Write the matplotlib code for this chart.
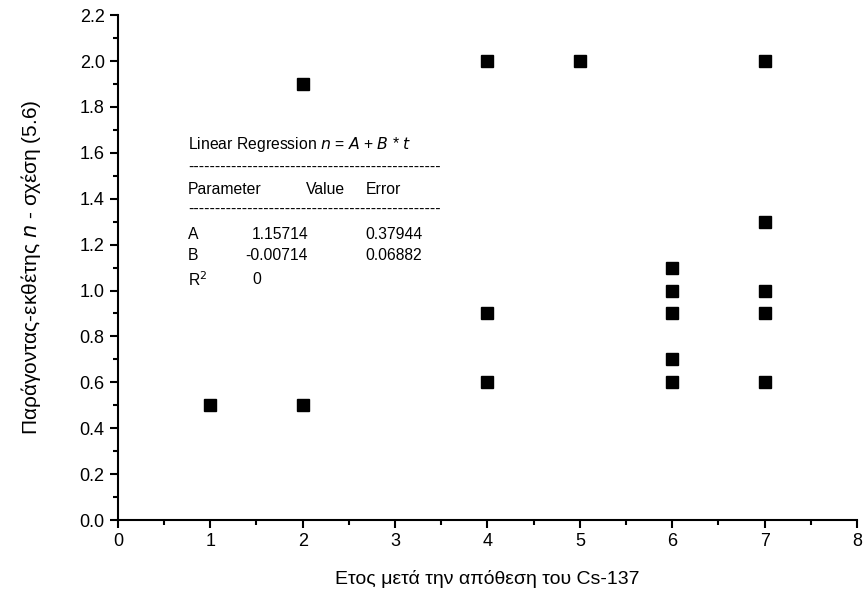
import matplotlib
matplotlib.use("Agg")
import matplotlib.pyplot as plt
from matplotlib.ticker import MultipleLocator

plt.rcParams['font.family'] = ['Liberation Sans', 'DejaVu Sans']

years = [1, 2, 2, 4, 4, 4, 5, 6, 6, 6, 6, 6, 7, 7, 7, 7, 7]
n_values = [0.5, 1.9, 0.5, 2.0, 0.9, 0.6, 2.0, 1.1, 1.0, 0.9, 0.7, 0.6, 2.0, 1.3, 1.0, 0.9, 0.6]

fig = plt.figure(figsize=(8.67, 6.07), dpi=100)
ax = fig.add_axes([0.136, 0.1433, 0.8525, 0.8317])
ax.plot(years, n_values, 's', color='black', markersize=8, clip_on=False)

ax.set_xlim(0, 8)
ax.set_ylim(0, 2.2)
ax.xaxis.set_major_locator(MultipleLocator(1))
ax.xaxis.set_minor_locator(MultipleLocator(0.5))
ax.yaxis.set_major_locator(MultipleLocator(0.2))
ax.yaxis.set_minor_locator(MultipleLocator(0.1))
ax.yaxis.set_major_formatter(plt.FormatStrFormatter('%.1f'))
for s in ['top', 'right']:
    ax.spines[s].set_visible(False)
for s in ['left', 'bottom']:
    ax.spines[s].set_linewidth(1.5)
ax.tick_params(which='major', direction='out', length=6, width=1.5, labelsize=13)
ax.tick_params(which='minor', direction='out', length=3.5, width=1.5)

ax.set_xlabel('Ετος μετά την απόθεση του Cs-137', fontsize=14, labelpad=14)
ax.set_ylabel('Παράγοντας-εκθέτης $\\it{n}$ - σχέση (5.6)', fontsize=15, labelpad=26)

fs = 11.3
def T(x, y, s, **kw):
    fig.text(x / 867, 1 - y / 607, s, fontsize=fs, va='center', ha='left', **kw)

T(188, 145, 'Linear Regression $\\it{n}$ = $\\it{A}$ + $\\it{B}$ * $\\it{t}$')
T(188, 167, '-' * 47)
T(188, 189, 'Parameter')
T(306, 189, 'Value')
T(366, 189, 'Error')
T(188, 209, '-' * 47)
T(188, 234, 'A')
T(252, 234, '1.15714')
T(365, 234, '0.37944')
T(188, 256, 'B')
T(245, 256, '-0.00714')
T(365, 256, '0.06882')
T(188, 280, 'R$^{2}$')
T(252, 280, '0')

fig.savefig('out.png', dpi=100)
